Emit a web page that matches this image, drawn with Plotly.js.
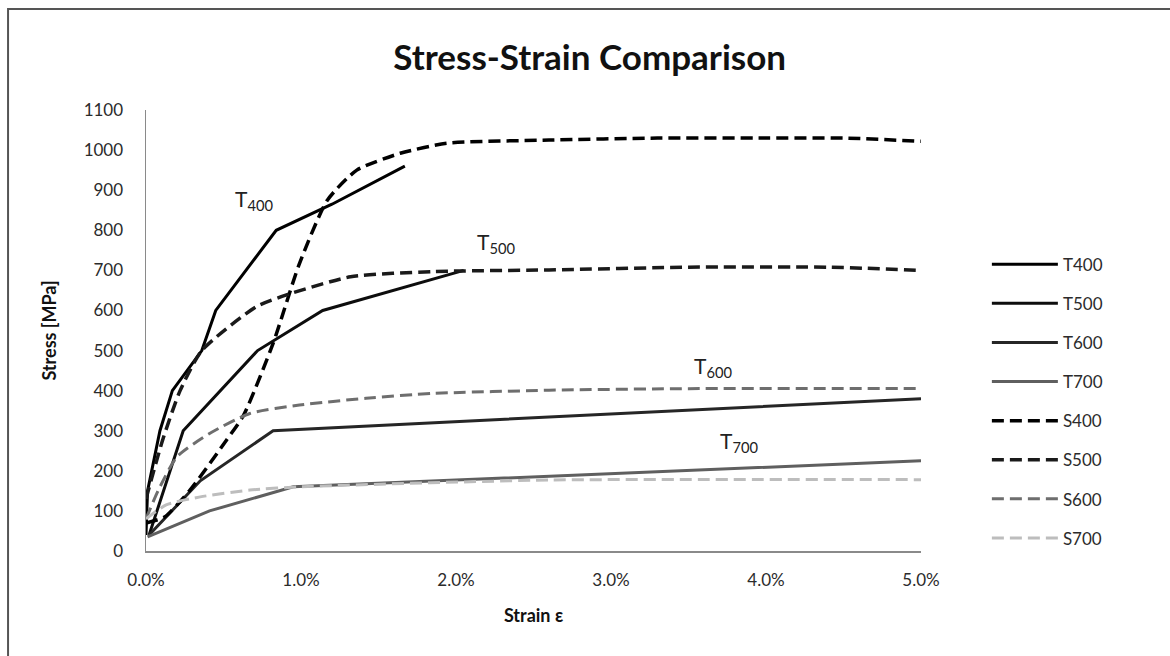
<!DOCTYPE html>
<html>
<head>
<meta charset="utf-8">
<script src="https://cdn.plot.ly/plotly-3.0.1.min.js"></script>
<style>
html,body{margin:0;padding:0;background:#fff;}
#chart{width:1170px;height:656px;}
</style>
</head>
<body>
<div id="chart"></div>
<script>
// Strain values are fractions (0.01 = 1.0 %), stress in MPa
const seriesNames = ["T400","T500","T600","T700","S400","S500","S600","S700"];

const T400_strain = [0.0000,0.0001,0.0009,0.0017,0.0036,0.0045,0.0084,0.0120,0.0167];
const T400_stress = [40,150,300,400,500,600,800,865,960];

const T500_strain = [0.0002,0.0024,0.0072,0.0114,0.0205];
const T500_stress = [40,300,500,600,700];

const T600_strain = [0.0002,0.0035,0.0082,0.0500];
const T600_stress = [40,175,300,380];

const T700_strain = [0.0001,0.0041,0.0095,0.0500];
const T700_stress = [35,100,160,225];

const S400_strain = [0.0000,0.0012,0.0028,0.0052,0.0063,0.0082,0.0099,0.0117,0.0136,0.0164,0.0194,0.0260,0.0330,0.0400,0.0450,0.0500];
const S400_stress = [70,85,150,277,339,518,717,875,950,992,1017,1025,1030,1030,1030,1022];

const S500_strain = [0.0000,0.0011,0.0022,0.0036,0.0071,0.0094,0.0132,0.0185,0.0260,0.0350,0.0440,0.0500];
const S500_stress = [130,280,400,500,609,643,684,697,701,708,708,700];

const S600_strain = [0.0000,0.0008,0.0020,0.0041,0.0067,0.0099,0.0142,0.0185,0.0260,0.0350,0.0500];
const S600_stress = [80,152,235,293,343,364,381,393,401,405,405];

const S700_strain = [0.0000,0.0013,0.0035,0.0067,0.0099,0.0260,0.0500];
const S700_stress = [80,115,135,152,160,177,178];

const xTickVals = [0,0.01,0.02,0.03,0.04,0.05];
const yTickVals = [0,100,200,300,400,500,600,700,800,900,1000,1100];

const labelText = ["T<sub>400</sub>","T<sub>500</sub>","T<sub>600</sub>","T<sub>700</sub>"];
const labelX = [0.0056,0.0212,0.0352,0.0369];
const labelY = [875,768,459,272];

const xs = [T400_strain,T500_strain,T600_strain,T700_strain,S400_strain,S500_strain,S600_strain,S700_strain];
const ys = [T400_stress,T500_stress,T600_stress,T700_stress,S400_stress,S500_stress,S600_stress,S700_stress];
const colors = ["#000000","#0d0d0d","#262626","#5f5f5f","#000000","#1a1a1a","#6e6e6e","#bdbdbd"];
const dashes = ["solid","solid","solid","solid","12px,6px","12px,6px","12px,6px","12px,6px"];
const widths = [3,3,3,3,3.5,3.5,3,3];

const traces = seriesNames.map((n,i)=>({
  x: xs[i], y: ys[i], name: n, type: "scatter", mode: "lines",
  line: {color: colors[i], width: widths[i], dash: dashes[i], shape: i>=4 ? "spline" : "linear", smoothing: 0.6},
  legendgroup: "g"+i,
  hoverinfo: "x+y+name"
}));

const FONT = "Lato, 'Open Sans', sans-serif";

const layout = {
  width: 1170, height: 656,
  paper_bgcolor: "#ffffff", plot_bgcolor: "#ffffff",
  margin: {l:146, r:249, t:110, b:105},
  font: {family: FONT, color: "#333333", size: 16},
  title: {text: "<b>Stress-Strain Comparison</b>", x: 0.504, xref: "container", xanchor: "center",
          y: 0.912, yref: "container", yanchor: "middle",
          font: {family: FONT, size: 35, color: "#111111"}},
  xaxis: {range: [0,0.05], tickvals: xTickVals, tickformat: ".1%", showgrid: false, zeroline: false,
          showline: true, linecolor: "#8a8a8a", linewidth: 1.5, ticks: "", ticklabelstandoff: 13,
          tickfont: {size: 17, color: "#2b2b2b"},
          title: {text: "<b>Strain ε</b>", font: {size: 18, color: "#111111"}, standoff: 20}},
  yaxis: {range: [0,1100], tickvals: yTickVals, showgrid: false, zeroline: false,
          showline: true, linecolor: "#8a8a8a", linewidth: 1.5, ticks: "", ticklabelstandoff: 18,
          tickfont: {size: 17, color: "#2b2b2b"},
          title: {text: "<b>Stress [MPa]</b>", font: {size: 18, color: "#111111"}, standoff: 22}},
  showlegend: true,
  legend: {x: 1.085, xanchor: "left", y: 0.69, yanchor: "top", font: {size: 17, color: "#2b2b2b"},
           tracegroupgap: 14, itemwidth: 66, bgcolor: "rgba(0,0,0,0)"},
  annotations: labelText.map((t,i)=>({x: labelX[i], y: labelY[i], text: t, showarrow: false,
           xanchor: "left", yanchor: "middle", font: {size: 21, color: "#222222"}})),
  shapes: [{type: "rect", xref: "paper", yref: "paper", x0: -0.178, x1: 1.5, y0: -0.5, y1: 1.229,
            line: {color: "#555555", width: 2}, fillcolor: "rgba(0,0,0,0)", layer: "below"}]
};

Plotly.newPlot("chart", traces, layout, {displayModeBar: false, staticPlot: true});
</script>
</body>
</html>
